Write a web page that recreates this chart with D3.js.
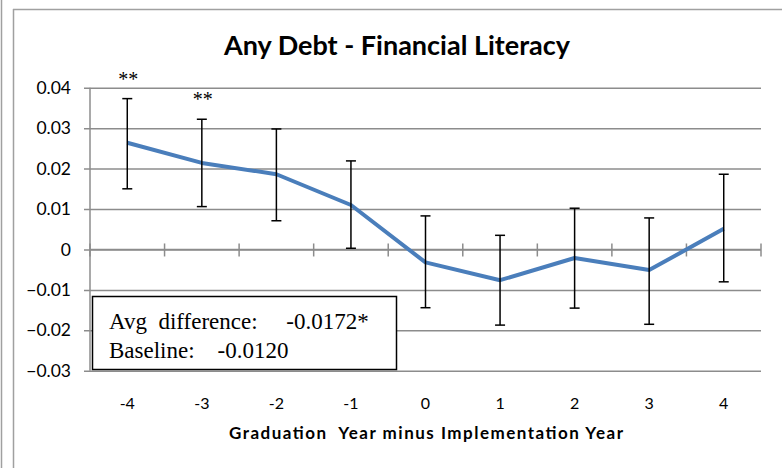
<!DOCTYPE html>
<html>
<head>
<meta charset="utf-8">
<script src="https://cdn.jsdelivr.net/npm/d3@7"></script>
<style>
  body { margin: 0; background: #fff; }
  svg { display: block; }
</style>
</head>
<body>
<div id="myGraph"></div>
<script>
// data
var years = [-4, -3, -2, -1, 0, 1, 2, 3, 4];
var estimate = [0.0264, 0.0214, 0.0186, 0.0110, -0.0032, -0.0076, -0.0021, -0.0051, 0.0051];
var upper = [0.0373, 0.0322, 0.0298, 0.0219, 0.0083, 0.0035, 0.0102, 0.0078, 0.0186];
var lower = [0.0150, 0.0106, 0.0071, 0.0003, -0.0144, -0.0187, -0.0145, -0.0185, -0.0080];
var stars = ["**", "**", "", "", "", "", "", "", ""];
var yTicks = [0.04, 0.03, 0.02, 0.01, 0, -0.01, -0.02, -0.03];
var boxLines = ["Avg  difference:     -0.0172*", "Baseline:    -0.0120"];

var width = 782, height = 468;
var pLeft = 90, pRight = 761, pTop = 87.7, pBottom = 370.8;
var grid = "#8c8c8c";
var sans = "Lato, 'Open Sans', sans-serif";

var svg = d3.select("#myGraph").append("svg")
    .attr("width", width)
    .attr("height", height);

// outer frame lines
svg.append("line").attr("x1", 1.5).attr("x2", 1.5).attr("y1", 0).attr("y2", height)
    .attr("stroke", "#a0a0a0").attr("stroke-width", 1.5);
svg.append("line").attr("x1", 13.5).attr("x2", 13.5).attr("y1", 9).attr("y2", height)
    .attr("stroke", "#a0a0a0").attr("stroke-width", 1.5);
svg.append("line").attr("x1", 13).attr("x2", width).attr("y1", 9.5).attr("y2", 9.5)
    .attr("stroke", "#a0a0a0").attr("stroke-width", 1.5);

var x = d3.scaleBand().domain(years).range([pLeft, pRight]);
var y = d3.scaleLinear().domain([-0.03, 0.04]).range([pBottom, pTop]);

// title
svg.append("text")
    .attr("x", 397).attr("y", 55)
    .attr("text-anchor", "middle")
    .style("font-family", sans)
    .style("font-weight", "bold")
    .style("font-size", "27px")
    .text("Any Debt - Financial Literacy");

// y grid + labels
var yAxis = d3.axisLeft(y).tickValues(yTicks)
    .tickSize(-(pRight - pLeft + 6)).tickSizeOuter(0)
    .tickFormat(function(d){ return d === 0 ? "0" : d3.format(".2f")(d); })
    .tickPadding(12);
var gy = svg.append("g").attr("transform", "translate(" + (pLeft - 6) + ",0)").call(yAxis);
gy.select(".domain").remove();
gy.selectAll(".tick line").attr("stroke", grid).attr("stroke-width", 1.5);
gy.selectAll(".tick text")
    .attr("x", -13)
    .style("font-family", sans)
    .style("font-size", "17.5px").attr("fill", "#000");

// y axis line
svg.append("line").attr("x1", pLeft).attr("x2", pLeft).attr("y1", pTop).attr("y2", pBottom)
    .attr("stroke", grid).attr("stroke-width", 1.5);

// x axis at zero with crossing ticks at band edges
svg.append("line").attr("x1", pLeft).attr("x2", pRight).attr("y1", y(0)).attr("y2", y(0))
    .attr("stroke", grid).attr("stroke-width", 1.5);
var edges = years.map(function(d){ return x(d); }).concat([pRight]);
svg.selectAll(".xtick").data(edges).enter().append("line")
    .attr("class", "xtick")
    .attr("x1", function(d){ return d; }).attr("x2", function(d){ return d; })
    .attr("y1", y(0) - 6).attr("y2", y(0) + 7)
    .attr("stroke", grid).attr("stroke-width", 1.5);

// x labels below plot
svg.selectAll(".xlab").data(years).enter().append("text")
    .attr("class", "xlab")
    .attr("x", function(d){ return x(d) + x.bandwidth() / 2; })
    .attr("y", 408.5)
    .attr("text-anchor", "middle")
    .style("font-family", sans)
    .style("font-size", "16px")
    .text(function(d){ return d; });

svg.append("text")
    .attr("x", 229).attr("y", 439)
    .attr("textLength", 394).attr("lengthAdjust", "spacing")
    .style("font-family", sans)
    .style("font-weight", "bold")
    .style("font-size", "17px")
    .attr("xml:space", "preserve")
    .text("Graduation  Year minus Implementation Year");

var cx = function(i){ return x(years[i]) + x.bandwidth() / 2; };

// line
svg.append("path")
    .datum(estimate)
    .attr("fill", "none")
    .attr("stroke", "#4a7ebb")
    .attr("stroke-width", 4)
    .attr("stroke-linejoin", "round")
    .attr("d", d3.line().x(function(d, i){ return cx(i); }).y(function(d){ return y(d); }));

// error bars
var eb = svg.selectAll(".eb").data(years).enter().append("g").attr("class", "eb");
eb.append("line")
    .attr("x1", function(d, i){ return cx(i); }).attr("x2", function(d, i){ return cx(i); })
    .attr("y1", function(d, i){ return y(upper[i]); }).attr("y2", function(d, i){ return y(lower[i]); })
    .attr("stroke", "#000").attr("stroke-width", 1.5);
eb.append("line")
    .attr("x1", function(d, i){ return cx(i) - 5; }).attr("x2", function(d, i){ return cx(i) + 5; })
    .attr("y1", function(d, i){ return y(upper[i]); }).attr("y2", function(d, i){ return y(upper[i]); })
    .attr("stroke", "#000").attr("stroke-width", 1.5);
eb.append("line")
    .attr("x1", function(d, i){ return cx(i) - 5; }).attr("x2", function(d, i){ return cx(i) + 5; })
    .attr("y1", function(d, i){ return y(lower[i]); }).attr("y2", function(d, i){ return y(lower[i]); })
    .attr("stroke", "#000").attr("stroke-width", 1.5);

// significance stars
svg.selectAll(".star").data(stars).enter().append("text")
    .attr("class", "star")
    .attr("x", function(d, i){ return cx(i) + 1; })
    .attr("y", function(d, i){ return y(upper[i]) - 13; })
    .attr("text-anchor", "middle")
    .style("font-family", "'Liberation Serif', serif")
    .style("font-size", "20px")
    .text(function(d){ return d; });

// text box
svg.append("rect")
    .attr("x", 92.5).attr("y", 296.5).attr("width", 304).attr("height", 73)
    .attr("fill", "#fff").attr("stroke", "#000").attr("stroke-width", 1.5);
svg.selectAll(".box").data(boxLines).enter().append("text")
    .attr("class", "box")
    .attr("x", 109)
    .attr("y", function(d, i){ return 329 + i * 29; })
    .style("font-family", "'Liberation Serif', serif")
    .style("font-size", "23px")
    .attr("xml:space", "preserve")
    .text(function(d){ return d; });
</script>
</body>
</html>
